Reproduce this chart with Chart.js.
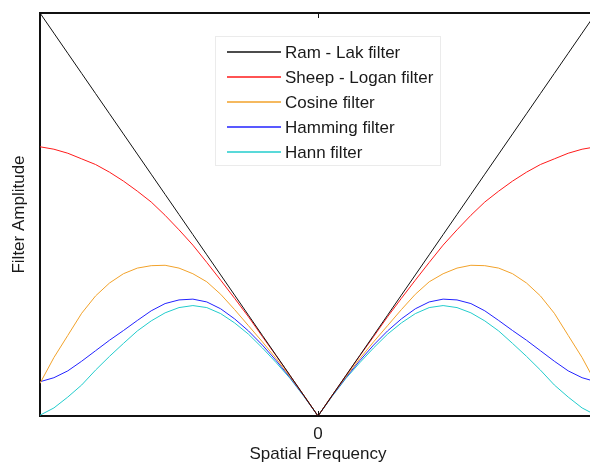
<!DOCTYPE html>
<html>
<head>
<meta charset="utf-8">
<script src="https://cdn.jsdelivr.net/npm/chart.js@4/dist/chart.umd.min.js"></script>
<style>
html, body { margin: 0; padding: 0; background: #fff; overflow: hidden; }
#wrap { position: relative; width: 600px; height: 465px; }
</style>
</head>
<body>
<div id="wrap">
    <canvas id="filterChart" width="600" height="465"></canvas>
</div>
<script>
// frequency samples, -1 .. 1
const freq = [-1.00,-0.95,-0.90,-0.85,-0.80,-0.75,-0.70,-0.65,-0.60,-0.55,-0.50,-0.45,-0.40,-0.35,-0.30,-0.25,-0.20,-0.15,-0.10,-0.05,
              0.00,0.05,0.10,0.15,0.20,0.25,0.30,0.35,0.40,0.45,0.50,0.55,0.60,0.65,0.70,0.75,0.80,0.85,0.90,0.95,1.00];

const ramLak = [1.000,0.950,0.900,0.850,0.800,0.750,0.700,0.650,0.600,0.550,0.500,0.450,0.400,0.350,0.300,0.250,0.200,0.150,0.100,0.050,
                0.000,0.050,0.100,0.150,0.200,0.250,0.300,0.350,0.400,0.450,0.500,0.550,0.600,0.650,0.700,0.750,0.800,0.850,0.900,0.950,1.000];
const sheppLogan = [0.668,0.662,0.652,0.638,0.624,0.605,0.583,0.558,0.531,0.498,0.462,0.424,0.381,0.337,0.292,0.246,0.197,0.149,0.100,0.050,
                    0.000,0.050,0.100,0.149,0.197,0.246,0.292,0.337,0.381,0.424,0.462,0.498,0.531,0.558,0.583,0.605,0.624,0.638,0.652,0.662,0.668];
const cosineF = [0.081,0.145,0.200,0.255,0.298,0.330,0.353,0.367,0.373,0.374,0.367,0.353,0.333,0.302,0.264,0.224,0.184,0.142,0.097,0.050,
                 0.000,0.050,0.097,0.142,0.184,0.224,0.264,0.302,0.333,0.353,0.367,0.374,0.373,0.367,0.353,0.330,0.298,0.255,0.200,0.145,0.081];
const hamming = [0.085,0.095,0.112,0.136,0.162,0.188,0.212,0.237,0.261,0.279,0.288,0.290,0.283,0.266,0.241,0.211,0.176,0.137,0.095,0.049,
                 0.000,0.049,0.095,0.137,0.176,0.211,0.241,0.266,0.283,0.290,0.288,0.279,0.261,0.237,0.212,0.188,0.162,0.136,0.112,0.095,0.085];
const hann = [0.002,0.020,0.047,0.077,0.114,0.148,0.180,0.211,0.236,0.256,0.269,0.274,0.269,0.254,0.231,0.203,0.169,0.132,0.093,0.048,
              0.000,0.048,0.093,0.132,0.169,0.203,0.231,0.254,0.269,0.274,0.269,0.256,0.236,0.211,0.180,0.148,0.114,0.077,0.047,0.020,0.002];

const seriesNames = ['Ram - Lak filter', 'Sheep - Logan filter', 'Cosine filter', 'Hamming filter', 'Hann filter'];
const seriesData = [ramLak, sheppLogan, cosineF, hamming, hann];
const seriesColors = ['#111111', '#ff1a1a', '#f2a22a', '#2222ff', '#22cccc'];

const font = 'Liberation Sans';

// top frame line + the little inward ticks at 0
const frame = {
    id: 'frame',
    afterDraw(chart) {
        const {ctx, chartArea: a, scales: {x}} = chart;
        ctx.save();
        ctx.strokeStyle = '#111';
        ctx.lineWidth = 2;
        ctx.beginPath();
        ctx.moveTo(a.left - 1, a.top);
        ctx.lineTo(a.right, a.top);
        ctx.stroke();
        const x0 = Math.round(x.getPixelForValue(0)) + 0.5;
        ctx.lineWidth = 1;
        ctx.beginPath();
        ctx.moveTo(x0, a.top);
        ctx.lineTo(x0, a.top + 5);
        ctx.moveTo(x0, a.bottom);
        ctx.lineTo(x0, a.bottom - 5);
        ctx.stroke();
        ctx.restore();
    }
};

// legend box drawn inside the plot, like the matlab one
const boxLegend = {
    id: 'boxLegend',
    afterDraw(chart) {
        const ctx = chart.ctx;
        const left = 215, top = 36, w = 226, h = 130;
        ctx.save();
        ctx.fillStyle = '#fff';
        ctx.fillRect(left, top, w, h);
        ctx.strokeStyle = '#ebebeb';
        ctx.lineWidth = 1;
        ctx.strokeRect(left + 0.5, top + 0.5, w - 1, h - 1);
        ctx.font = '17px "' + font + '"';
        ctx.textBaseline = 'middle';
        chart.data.datasets.forEach((ds, i) => {
            const y = Math.round(top + 15.5 + i * 25);
            ctx.strokeStyle = ds.borderColor;
            ctx.lineWidth = 1.6;
            ctx.beginPath();
            ctx.moveTo(left + 12, y);
            ctx.lineTo(left + 66, y);
            ctx.stroke();
            ctx.fillStyle = '#1a1a1a';
            ctx.fillText(ds.label, left + 70, y + 1);
        });
        ctx.restore();
    }
};

const ctx = document.getElementById('filterChart').getContext('2d');
const chart = new Chart(ctx, {
    type: 'line',
    data: {
        datasets: seriesNames.map((name, i) => ({
            label: name,
            data: freq.map((f, j) => ({x: f, y: seriesData[i][j]})),
            borderColor: seriesColors[i],
            borderWidth: 1,
            pointRadius: 0,
            tension: 0,
            fill: false
        }))
    },
    options: {
        responsive: false,
        animation: false,
        layout: {padding: {top: 13, right: 4, left: 0, bottom: 0}},
        plugins: {legend: {display: false}, tooltip: {enabled: false}},
        scales: {
            x: {
                type: 'linear', min: -1, max: 1,
                afterBuildTicks: s => { s.ticks = [{value: 0}]; },
                afterFit: s => { s.height = 49; },
                ticks: {color: '#1a1a1a', padding: 8, font: {family: font, size: 17}},
                grid: {drawOnChartArea: false, drawTicks: false},
                border: {color: '#111', width: 2},
                title: {display: true, text: 'Spatial Frequency', color: '#1a1a1a',
                        font: {family: font, size: 17}, padding: {top: 0, bottom: 0}}
            },
            y: {
                min: 0, max: 1,
                afterFit: s => { s.width = 40; },
                ticks: {display: false},
                grid: {drawOnChartArea: false, drawTicks: false},
                border: {color: '#111', width: 2},
                title: {display: true, text: 'Filter Amplitude', color: '#1a1a1a',
                        font: {family: font, size: 17}, padding: {top: 9, bottom: 0}}
            }
        }
    },
    plugins: [frame, boxLegend]
});
</script>
</body>
</html>
